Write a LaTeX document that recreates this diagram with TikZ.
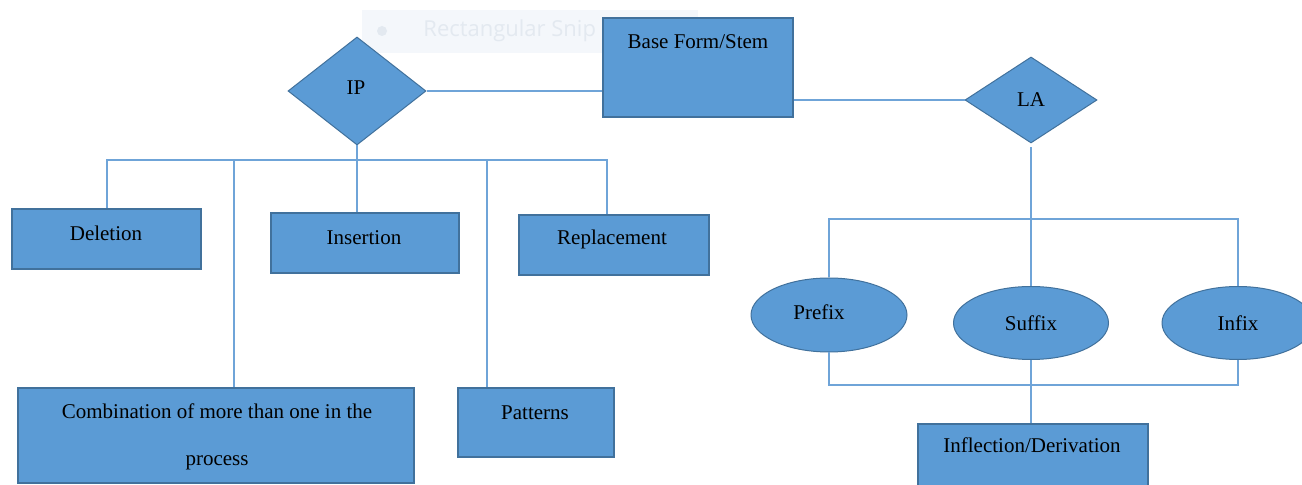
\documentclass[tikz,border=0pt]{standalone}
\usepackage{fontspec}
\setmainfont{Liberation Serif}
\newfontfamily\snipfont{Open Sans}
\usetikzlibrary{shapes.geometric}
\definecolor{boxfill}{HTML}{5B9BD5}
\definecolor{boxline}{HTML}{41719C}
\definecolor{wirecol}{HTML}{6FA4D8}
\definecolor{snipbg}{HTML}{F4F7FB}
\definecolor{snipfg}{HTML}{E3E9F0}
\tikzset{
  box/.style={draw=boxline, fill=boxfill, line width=0.8pt, rectangle, inner sep=0pt},
  dia/.style={draw=boxline, fill=boxfill, line width=0.5pt, diamond, inner sep=0pt},
  oval/.style={draw=boxline, fill=boxfill, line width=0.5pt, ellipse, inner sep=0pt},
  txt/.style={font=\fontsize{10.5}{12.6}\selectfont, text=black, inner sep=0pt, align=center},
  wire/.style={draw=wirecol, line width=1pt}
}
\begin{document}
\begin{tikzpicture}[x=0.5pt,y=-0.5pt]
        \clip (0,0) rectangle (1302,485);
        \fill[white] (0,0) rectangle (1302,485);

        % Snip tool overlay
        \node[fill=snipbg, minimum width=168pt, minimum height=21.5pt, inner sep=0pt] (snip) at (530,31.5) {};
        \fill[snipfg] (382,31) circle (2.5pt);
        \node[font=\snipfont\fontsize{11}{13}\selectfont, text=snipfg, anchor=west, inner sep=0pt] (sniptxt) at (423,31) {Rectangular Snip};

        % Base form and the two diamonds
        \node[box, minimum width=95pt, minimum height=49.5pt] (stem) at (698,67.5) {};
        \node[txt] (stemtxt) at (698,42) {Base Form/Stem};
        \node[dia, minimum width=69pt, minimum height=54pt] (ip) at (357,91) {};
        \node[txt] (iptxt) at (356,88) {IP};
        \node[dia, minimum width=66pt, minimum height=43pt] (la) at (1031,100) {};
        \node[txt] (latxt) at (1031,100) {LA};

        % IP branch
        \node[box, minimum width=94.5pt, minimum height=30pt] (del) at (106.5,239) {};
        \node[txt] (deltxt) at (106,233) {Deletion};
        \node[box, minimum width=94pt, minimum height=30pt] (ins) at (365,243) {};
        \node[txt] (instxt) at (364,238) {Insertion};
        \node[box, minimum width=95pt, minimum height=30pt] (rep) at (614,245) {};
        \node[txt] (reptxt) at (612,239) {Replacement};
        \node[box, minimum width=198pt, minimum height=47.5pt] (comb) at (216,435.5) {};
        \node[txt] (combtxt) at (217,437) {Combination of more than one in the\\[11pt]process};
        \node[box, minimum width=78pt, minimum height=34.5pt] (pat) at (536,422.5) {};
        \node[txt] (pattxt) at (535,413) {Patterns};

        % LA branch
        \node[oval, minimum width=78pt, minimum height=37pt] (pre) at (829,315) {};
        \node[txt] (pretxt) at (819,312) {Prefix};
        \node[oval, minimum width=77.5pt, minimum height=36.5pt] (suf) at (1031,323) {};
        \node[txt] (suftxt) at (1031,323) {Suffix};
        \node[oval, minimum width=76pt, minimum height=36.5pt] (inf) at (1238,323) {};
        \node[txt] (inftxt) at (1238,323) {Infix};
        \node[box, minimum width=115pt, minimum height=35pt] (infl) at (1033,459) {};
        \node[txt] (infltxt) at (1032,445) {Inflection/Derivation};

        % Links to base form
        \draw[wire] (ip.east) -- (stem.west |- ip.east);
        \draw[wire] (stem.east |- la.west) -- (la.west);

        % IP bus
        \coordinate (ipbus) at (357,160);
        \coordinate (combtap) at (234,160);
        \coordinate (pattap) at (487,160);
        \draw[wire] (del.north) |- (ipbus);
        \draw[wire] (ipbus) -| ([xshift=-3.5pt]rep.north);
        \draw[wire] (ip.south) -- (ip.south |- ins.north);
        \draw[wire] (combtap) -- (combtap |- comb.north);
        \draw[wire] (pattap) -- (pattap |- pat.north);

        % LA buses
        \coordinate (labus) at (1031,219);
        \coordinate (labot) at (1031,385);
        \draw[wire, shorten <=2pt] (la.south) -- (suf.north);
        \draw[wire] (pre.north) |- (labus) -| (inf.north);
        \draw[wire] (pre.south) |- (labot) -| (inf.south);
        \draw[wire] (suf.south) -- (suf.south |- infl.north);
    \end{tikzpicture}
\end{document}
